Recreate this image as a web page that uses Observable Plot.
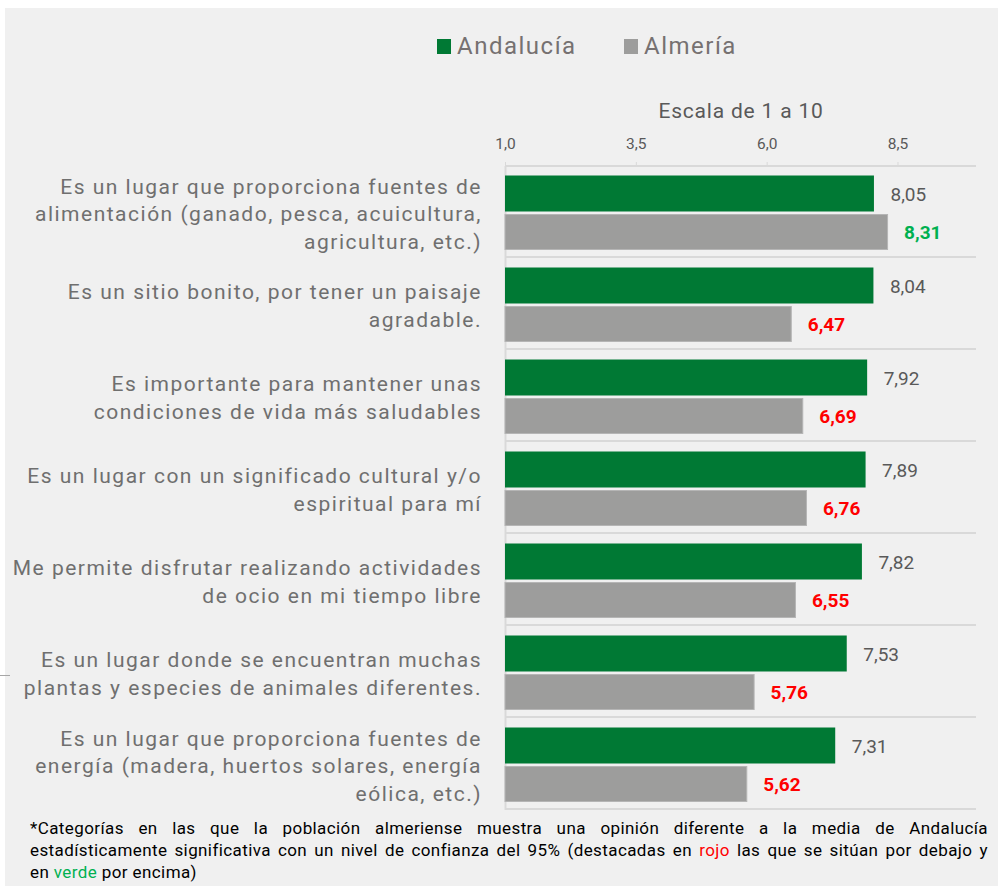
<!DOCTYPE html>
<html>
<head>
<meta charset="utf-8">
<script src="https://cdn.jsdelivr.net/npm/d3@7"></script>
<script src="https://cdn.jsdelivr.net/npm/@observablehq/plot@0.6"></script>
<style>
html, body { margin: 0; padding: 0; background: #ffffff; }
#panel { position: absolute; left: 5px; top: 8px; width: 993px; height: 878px; background: #f0f0f0; overflow: hidden; font-family: Roboto, "Noto Sans", sans-serif; }
.item { position: absolute; top: 23px; height: 30px; display: flex; align-items: center; font-size: 24px; color: #767171; letter-spacing: 1.5px; }
.sw { width: 14px; height: 15px; margin-right: 6px; }
#chart { position: absolute; left: 0; top: 82px; }
#note { position: absolute; left: 25px; top: 809px; width: 958px; font-size: 17px; line-height: 22px; color: #000; letter-spacing: 0.4px; }
#note div { white-space: nowrap; text-align: justify; text-align-last: justify; }
#note div.last { text-align: left; text-align-last: left; }
#stray { position: absolute; left: 0; top: 675px; width: 10px; height: 1px; background: #a6a6a6; }
</style>
</head>
<body>
<div id="panel">
  <div id="legend"></div>
  <div id="chart"></div>
  <div id="note"></div>
</div>
<div id="stray"></div>
<script>
// ---- data ----
const categories = [
  "Es un lugar que proporciona fuentes de alimentación (ganado, pesca, acuicultura, agricultura, etc.)",
  "Es un sitio bonito, por tener un paisaje agradable.",
  "Es importante para mantener unas condiciones de vida más saludables",
  "Es un lugar con un significado cultural y/o espiritual para mí",
  "Me permite disfrutar realizando actividades de ocio en mi tiempo libre",
  "Es un lugar donde se encuentran muchas plantas y especies de animales diferentes.",
  "Es un lugar que proporciona fuentes de energía (madera, huertos solares, energía eólica, etc.)"
];
const categoryLines = [
  "Es un lugar que proporciona fuentes de\nalimentación (ganado, pesca, acuicultura,\nagricultura, etc.)",
  "Es un sitio bonito, por tener un paisaje\nagradable.",
  "Es importante para mantener unas\ncondiciones de vida más saludables",
  "Es un lugar con un significado cultural y/o\nespiritual para mí",
  "Me permite disfrutar realizando actividades\nde ocio en mi tiempo libre",
  "Es un lugar donde se encuentran muchas\nplantas y especies de animales diferentes.",
  "Es un lugar que proporciona fuentes de\nenergía (madera, huertos solares, energía\neólica, etc.)"
];
const seriesNames = ["Andalucía", "Almería"];
const andalucia = [8.05, 8.04, 7.92, 7.89, 7.82, 7.53, 7.31];
const almeria   = [8.31, 6.47, 6.69, 6.76, 6.55, 5.76, 5.62];
const almeriaVsAndalucia = ["above", "below", "below", "below", "below", "below", "below"];
const scaleRange = [1, 10];
const xTicks = [1, 3.5, 6, 8.5];
const axisTitle = "Escala de 1 a 10";
const noteLines = [
  '*Categorías en las que la población almeriense muestra una opinión diferente a la media de Andalucía',
  'estadísticamente significativa con un nivel de confianza del 95% (destacadas en <span style="color:#ff0000">rojo</span> las que se sitúan por debajo y',
  'en <span style="color:#00b050">verde</span> por encima)'
];

// ---- styles ----
const GREEN = "#007934";
const GRAY = "#9d9d9c";
const seriesColors = [GREEN, GRAY];
const diffColor = {above: "#00b050", below: "#ff0000"};
const GRID = "#d9d9d9";

const rows = categories.map((c, i) => ({
  category: c, label: categoryLines[i],
  andalucia: andalucia[i], almeria: almeria[i], diff: almeriaVsAndalucia[i]
}));
const fmt2 = v => v.toFixed(2).replace(".", ",");
const fmt1 = v => v.toFixed(1).replace(".", ",");

// legend
const legend = document.getElementById("legend");
const legendX = [432, 619];
seriesNames.forEach((name, i) => {
  const it = document.createElement("div");
  it.className = "item";
  it.style.left = legendX[i] + "px";
  it.innerHTML = `<span class="sw" style="background:${seriesColors[i]}"></span><span>${name}</span>`;
  legend.appendChild(it);
});

const chart = Plot.plot({
  width: 993,
  height: 730,
  marginLeft: 500,
  marginRight: 22,
  marginTop: 76,
  marginBottom: 10,
  style: {background: "transparent", fontFamily: "Roboto, 'Noto Sans', sans-serif", overflow: "visible"},
  x: {domain: scaleRange, axis: null},
  y: {domain: categories, padding: 0, axis: null},
  color: {type: "identity"},
  marks: [
    // group separators (bottom of each band) and top line
    Plot.barX(rows, {x1: scaleRange[0], x2: scaleRange[1], y: "category", insetTop: 90, insetBottom: 0, fill: GRID}),
    Plot.barX(rows.slice(0, 1), {x1: scaleRange[0], x2: scaleRange[1], y: "category", insetTop: -1, insetBottom: 91, fill: GRID}),
    Plot.ruleX([scaleRange[0]], {stroke: GRID, strokeWidth: 2}),
    // axis ticks
    Plot.axisX({anchor: "top", ticks: xTicks, tickSize: 5, tickFormat: () => "", color: GRID, label: null}),
    Plot.axisX({anchor: "top", ticks: xTicks, tickSize: 0, tickPadding: 18, tickFormat: fmt1, fontSize: 15.5, color: "#595959", label: null}),
    Plot.text([axisTitle], {frameAnchor: "top", dy: -63, fontSize: 21, fill: "#595959"}),
    // bars
    Plot.barX(rows, {x1: scaleRange[0], x2: "andalucia", y: "category", insetTop: 9.5, insetBottom: 46.5, fill: GREEN}),
    Plot.barX(rows, {x1: scaleRange[0], x2: "almeria", y: "category", insetTop: 48.5, insetBottom: 8.5, fill: GRAY, stroke: "#b5b5b5", strokeWidth: 1}),
    // value labels
    Plot.text(rows, {x: "andalucia", y: "category", text: d => fmt2(d.andalucia), dx: 16, dy: -18, textAnchor: "start", fontSize: 19, fill: "#595959"}),
    Plot.text(rows, {x: "almeria", y: "category", text: d => fmt2(d.almeria), dx: 16, dy: 20, textAnchor: "start", fontSize: 19, fontWeight: "bold", fill: d => diffColor[d.diff]}),
    // category labels
    Plot.text(rows, {y: "category", text: "label", frameAnchor: "left", textAnchor: "end", dx: -23.5, dy: 0, fontSize: 21, lineHeight: 1.33, fill: "#6f6f6f"})
  ]
});
// letter spacing for the category labels (last text mark) and the axis title
const textGroups = chart.querySelectorAll('g[aria-label="text"]');
if (textGroups.length) {
  textGroups[textGroups.length - 1].style.letterSpacing = "1.5px";
  textGroups[0].style.letterSpacing = "0.8px";
}
document.getElementById("chart").appendChild(chart);
const note = document.getElementById("note");
noteLines.forEach((html, i) => {
  const d = document.createElement("div");
  if (i === noteLines.length - 1) d.className = "last";
  d.innerHTML = html;
  note.appendChild(d);
});
</script>
</body>
</html>
